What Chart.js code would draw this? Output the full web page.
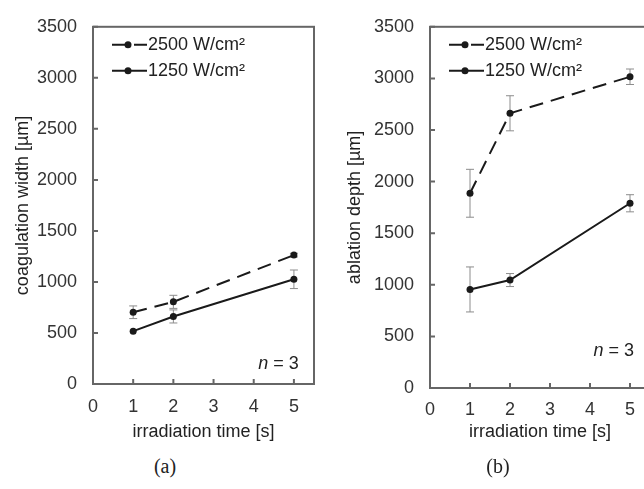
<!DOCTYPE html>
<html>
<head>
<meta charset="utf-8">
<script src="https://cdn.jsdelivr.net/npm/chart.js@4/dist/chart.umd.min.js"></script>
<style>
  html, body { margin: 0; padding: 0; background: #fff; overflow: hidden; width: 644px; height: 489px; }
  #wrap { position: relative; width: 644px; height: 489px; overflow: hidden; }
  canvas { position: absolute; top: 0; }
  #cA { left: 0; }
  #cB { left: 322px; }
  .cap { position: absolute; top: 455px; width: 60px; margin-left: -30px; text-align: center;
         font: 20px "Liberation Serif", "DejaVu Serif", serif; color: #222; }
</style>
</head>
<body>
<div id="wrap">
  <canvas id="cA" width="330" height="450"></canvas>
  <canvas id="cB" width="340" height="450"></canvas>
  <div class="cap" style="left:165px">(a)</div>
  <div class="cap" style="left:498px">(b)</div>
</div>
<script>
// irradiation times [s]
const times = [1, 2, 5];
const xTicks = [0, 1, 2, 3, 4, 5];
const yTicks = [0, 500, 1000, 1500, 2000, 2500, 3000, 3500];
const seriesNames = ["2500 W/cm²", "1250 W/cm²"];

// (a) coagulation width [µm]
const coagHigh = [703, 805, 1263];
const coagHighErr = [62, 64, 18];
const coagLow = [518, 662, 1026];
const coagLowErr = [0, 64, 91];

// (b) ablation depth [µm]
const ablHigh = [1887, 2662, 3016];
const ablHighErr = [232, 170, 75];
const ablLow = [955, 1046, 1790];
const ablLowErr = [218, 63, 83];

Chart.defaults.font.family = '"Liberation Sans", Arial, sans-serif';
Chart.defaults.font.size = 18;
Chart.defaults.color = '#333';

const ink = '#1a1a1a';

// error bars, frame, inward ticks, in-plot legend and the "n = 3" note
const decor = {
  id: 'decor',
  beforeDatasetsDraw(chart, args, opts) {
    const { ctx, scales: { x, y } } = chart;
    ctx.save();
    ctx.strokeStyle = '#8c8c8c';
    ctx.lineWidth = 1;
    chart.data.datasets.forEach((ds, di) => {
      ds.data.forEach((p, i) => {
        const e = opts.errs[di][i];
        if (!e) return;
        const px = x.getPixelForValue(p.x);
        const top = y.getPixelForValue(p.y + e);
        const bot = y.getPixelForValue(p.y - e);
        ctx.beginPath();
        ctx.moveTo(px, top); ctx.lineTo(px, bot);
        ctx.moveTo(px - 4, top); ctx.lineTo(px + 4, top);
        ctx.moveTo(px - 4, bot); ctx.lineTo(px + 4, bot);
        ctx.stroke();
      });
    });
    ctx.restore();
  },
  afterDraw(chart, args, opts) {
    const { ctx, chartArea: a, scales: { x, y } } = chart;
    ctx.save();
    ctx.strokeStyle = '#666';
    ctx.lineWidth = 2;
    ctx.strokeRect(a.left, a.top, a.right - a.left, a.bottom - a.top);
    ctx.beginPath();
    xTicks.forEach(v => {
      const px = x.getPixelForValue(v);
      ctx.moveTo(px, a.bottom); ctx.lineTo(px, a.bottom - 5);
    });
    yTicks.forEach(v => {
      const py = y.getPixelForValue(v);
      ctx.moveTo(a.left, py); ctx.lineTo(a.left + 5, py);
    });
    ctx.stroke();

    // legend
    ctx.font = '18px "Liberation Sans", Arial, sans-serif';
    ctx.textBaseline = 'middle';
    ctx.textAlign = 'left';
    chart.data.datasets.forEach((ds, i) => {
      const ry = a.top + 18 + i * 26;
      ctx.strokeStyle = ink;
      ctx.lineWidth = 2;
      ctx.setLineDash(ds.borderDash || []);
      ctx.beginPath();
      ctx.moveTo(a.left + 19, ry); ctx.lineTo(a.left + 54, ry);
      ctx.stroke();
      ctx.setLineDash([]);
      ctx.fillStyle = ink;
      ctx.beginPath();
      ctx.arc(a.left + 35, ry, 3.5, 0, Math.PI * 2);
      ctx.fill();
      ctx.fillStyle = '#222';
      ctx.fillText(ds.label, a.left + 55, ry);
    });

    // n = 3
    const nx = x.getPixelForValue(opts.note[0]);
    const ny = y.getPixelForValue(opts.note[1]);
    ctx.textAlign = 'right';
    ctx.fillText(' = 3', nx, ny);
    const w = ctx.measureText(' = 3').width;
    ctx.font = 'italic 18px "Liberation Sans", Arial, sans-serif';
    ctx.fillText('n', nx - w, ny);
    ctx.restore();
  }
};

function pts(vals) {
  return vals.map((v, i) => ({ x: times[i], y: v }));
}

function makeChart(id, high, highErr, low, lowErr, yTitle, yWidth, xHeight, layout, tickPad, titlePad, note) {
  return new Chart(document.getElementById(id), {
    type: 'scatter',
    data: {
      datasets: [
        { label: seriesNames[0], data: pts(high), showLine: true, borderColor: ink, backgroundColor: ink,
          borderWidth: 2, borderDash: [14, 8], pointRadius: 3.5, pointBackgroundColor: ink, pointBorderWidth: 0 },
        { label: seriesNames[1], data: pts(low), showLine: true, borderColor: ink, backgroundColor: ink,
          borderWidth: 2, pointRadius: 3.5, pointBackgroundColor: ink, pointBorderWidth: 0 }
      ]
    },
    options: {
      responsive: false,
      animation: false,
      layout: { padding: layout },
      plugins: {
        legend: { display: false },
        tooltip: { enabled: false },
        decor: { errs: [highErr, lowErr], note: note }
      },
      scales: {
        x: {
          type: 'linear', min: 0, max: 5.5,
          grid: { display: false, drawTicks: false }, border: { display: false },
          afterBuildTicks: s => { s.ticks = xTicks.map(v => ({ value: v })); },
          afterFit: s => { s.height = xHeight; },
          ticks: { padding: tickPad, color: '#333', callback: v => String(v) },
          title: { display: true, text: 'irradiation time [s]', color: '#222', padding: { top: 0, bottom: 7 } }
        },
        y: {
          type: 'linear', min: 0, max: 3500,
          grid: { display: false, drawTicks: false }, border: { display: false },
          afterBuildTicks: s => { s.ticks = yTicks.map(v => ({ value: v })); },
          afterFit: s => { s.width = yWidth; },
          ticks: { padding: 16, color: '#333', callback: v => String(v) },
          title: { display: true, text: yTitle, color: '#222', padding: { top: titlePad, bottom: 0 } }
        }
      }
    },
    plugins: [decor]
  });
}

makeChart('cA', coagHigh, coagHighErr, coagLow, coagLowErr, 'coagulation width [µm]',
  93, 66, { top: 19, right: 16, left: 0, bottom: 0 }, 12, 12, [5.12, 200]);
makeChart('cB', ablHigh, ablHighErr, ablLow, ablLowErr, 'ablation depth [µm]',
  108, 62, { top: 19, right: 12, left: 0, bottom: 0 }, 11, 22, [5.1, 360]);
</script>
</body>
</html>
